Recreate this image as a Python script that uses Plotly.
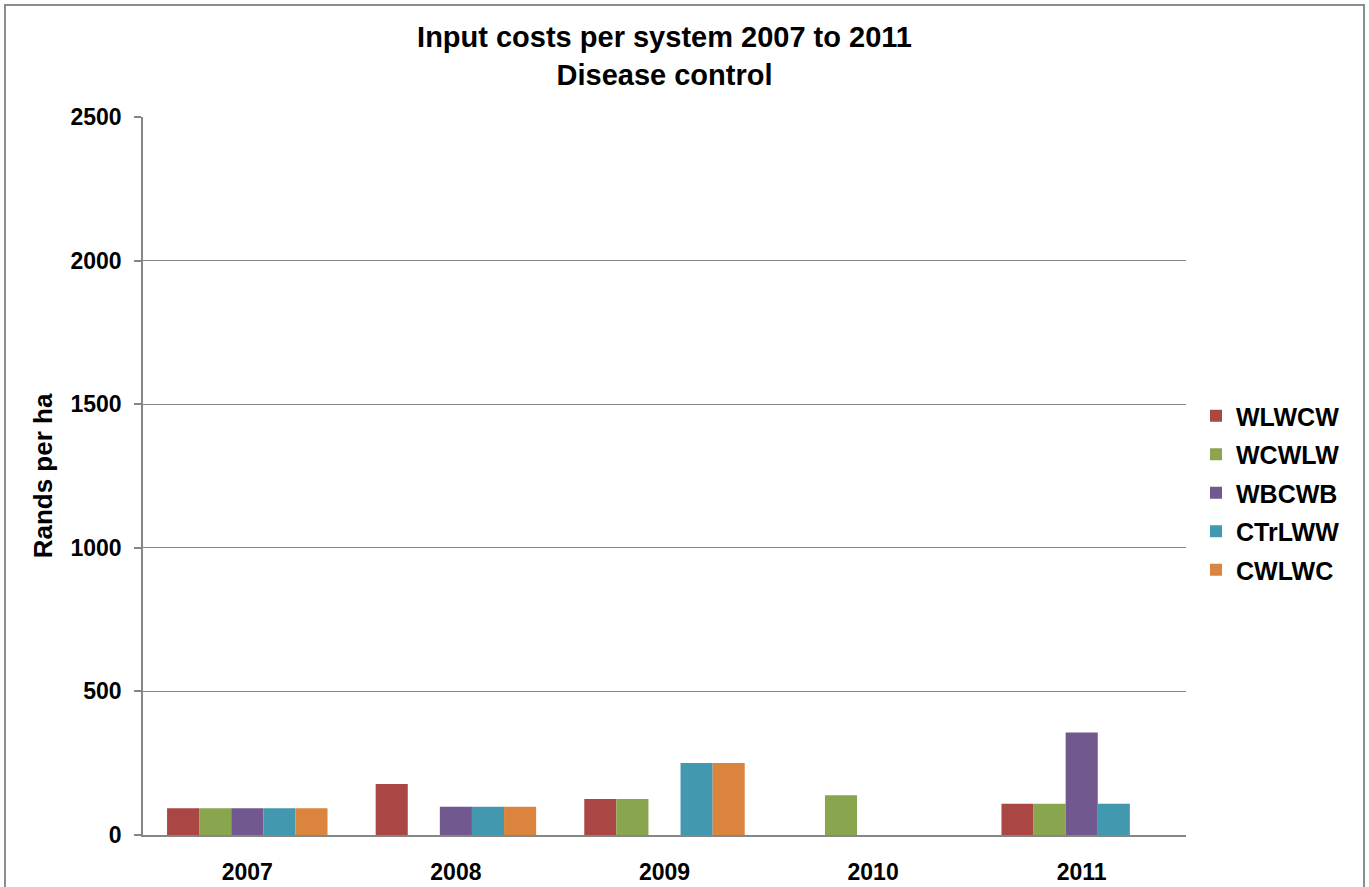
import plotly.graph_objects as go

# Disease control input costs (Rands per ha) by crop rotation system
years = ["2007", "2008", "2009", "2010", "2011"]

wlwcw = [93, 178, 125, None, 109]
wcwlw = [93, None, 125, 138, 109]
wbcwb = [93, 98, None, None, 357]
ctrlww = [93, 98, 251, None, 109]
cwlwc = [93, 98, 251, None, None]

series_names = ["WLWCW", "WCWLW", "WBCWB", "CTrLWW", "CWLWC"]
series_values = [wlwcw, wcwlw, wbcwb, ctrlww, cwlwc]
series_colors = ["#AA4643", "#89A54E", "#71588F", "#4198AF", "#DB843D"]

y_ticks = [0, 500, 1000, 1500, 2000, 2500]

FONT = "Liberation Sans, Arial, sans-serif"

fig = go.Figure()
for name, vals, col in zip(series_names, series_values, series_colors):
    fig.add_trace(go.Bar(
        x=years, y=vals, name=f"<b>{name}</b>", legendgroup=name,
        marker=dict(color=col, line=dict(width=0)),
    ))

W, H = 1369, 887
L, R, T, B = 143, 183, 117, 52
pw, ph = W - L - R, H - T - B

def px_x(p):
    return (p - L) / pw

def px_y(p):
    return (H - B - p) / ph

fig.update_layout(
    width=W, height=H,
    template="none",
    paper_bgcolor="white", plot_bgcolor="white",
    margin=dict(l=L, r=R, t=T, b=B, autoexpand=False),
    barmode="group", bargap=0.2308, bargroupgap=0,
    font=dict(family=FONT, color="black"),
    title=dict(
        text="<b>Input costs per system 2007 to 2011<br>Disease control</b>",
        x=0.5, xref="paper", xanchor="center",
        y=1 - 47 / H, yanchor="middle",
        font=dict(size=29, family=FONT, color="black"),
    ),
    legend=dict(
        x=px_x(1196), xanchor="left",
        y=px_y(493), yanchor="middle",
        traceorder="grouped", tracegroupgap=3,
        font=dict(size=25, family=FONT, color="black"),
        bgcolor="rgba(0,0,0,0)",
    ),
    xaxis=dict(
        showline=True, linecolor="#868686", linewidth=1.5,
        showgrid=False, ticks="", automargin=False,
        tickfont=dict(size=23, family=FONT, color="black"),
        ticklabelstandoff=16,
        tickprefix="<b>", ticksuffix="</b>",
    ),
    yaxis=dict(
        range=[0, 2500], tickvals=y_ticks,
        ticktext=[f"<b>{v}</b>" for v in y_ticks],
        showline=True, linecolor="#868686", linewidth=1.5,
        showgrid=True, gridcolor="#868686", gridwidth=1.2,
        ticks="outside", ticklen=7, tickcolor="#868686", tickwidth=1.5,
        tickfont=dict(size=23, family=FONT, color="black"),
        ticklabelstandoff=8,
        automargin=False, zeroline=False,
        title=dict(text="<b>Rands per ha</b>", standoff=10,
                   font=dict(size=26, family=FONT, color="black")),
    ),
    shapes=[dict(
        type="rect", xref="paper", yref="paper",
        x0=px_x(5), x1=px_x(1364), y0=px_y(895), y1=px_y(5),
        line=dict(color="#8C8C8C", width=2), fillcolor="rgba(0,0,0,0)",
        layer="below",
    )],
)

fig.write_html("out.html")
